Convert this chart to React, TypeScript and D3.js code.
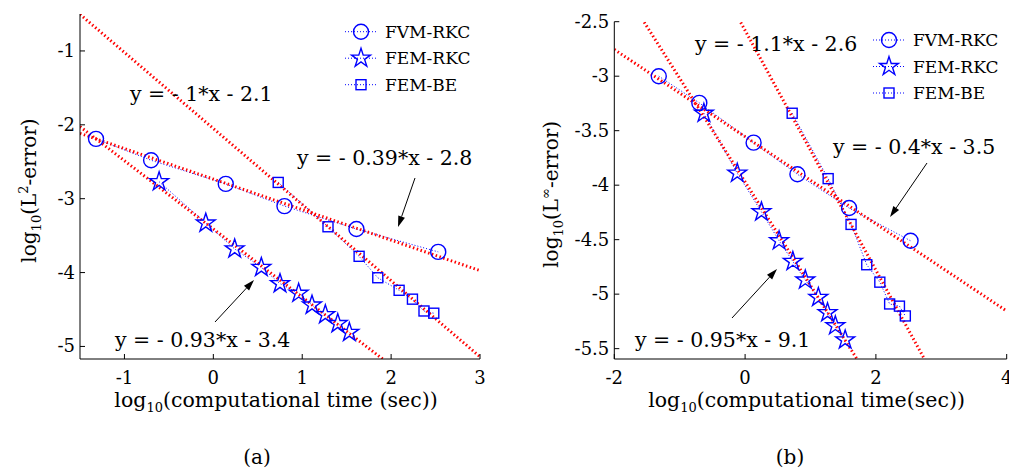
import React from "react";
import * as d3 from "d3";

// ---------- data: panel (a) ----------
const aFvmRkcX = [-1.32, -0.70, 0.14, 0.80, 1.61, 2.53];
const aFvmRkcY = [-2.19, -2.48, -2.80, -3.10, -3.41, -3.72];
const aFemRkcX = [-0.61, -0.085, 0.24, 0.54, 0.75, 0.96, 1.11, 1.26, 1.40, 1.53];
const aFemRkcY = [-2.77, -3.33, -3.68, -3.93, -4.15, -4.28, -4.44, -4.57, -4.69, -4.81];
const aFemBeX = [0.73, 1.29, 1.64, 1.85, 2.09, 2.24, 2.37, 2.48];
const aFemBeY = [-2.78, -3.38, -3.78, -4.07, -4.24, -4.36, -4.52, -4.55];
// fitted lines [slope, intercept]
const aFits = [
  [-1.03, -2.05],
  [-0.413, -2.735],
  [-0.924, -3.41],
];
const aXTicks = [-1, 0, 1, 2, 3];
const aYTicks = [-5, -4, -3, -2, -1];

// ---------- data: panel (b) ----------
const bFvmRkcX = [-1.32, -0.70, 0.13, 0.80, 1.59, 2.53];
const bFvmRkcY = [-3.0, -3.245, -3.61, -3.90, -4.21, -4.51];
const bFemRkcX = [-0.63, -0.12, 0.25, 0.52, 0.73, 0.92, 1.12, 1.26, 1.38, 1.53];
const bFemRkcY = [-3.34, -3.89, -4.245, -4.51, -4.70, -4.87, -5.03, -5.17, -5.29, -5.42];
const bFemBeX = [0.72, 1.27, 1.62, 1.86, 2.06, 2.21, 2.36, 2.45];
const bFemBeY = [-3.34, -3.94, -4.36, -4.73, -4.89, -5.09, -5.11, -5.20];
const bFits = [
  [-0.4, -3.555],
  [-0.95, -3.97],
  [-1.1, -2.58],
];
const bXTicks = [-2, 0, 2, 4];
const bYTicks = [-5.5, -5, -4.5, -4, -3.5, -3, -2.5];

const seriesNames = ["FVM-RKC", "FEM-RKC", "FEM-BE"];

const FONT = "'DejaVu Serif', serif";
const BLUE = "#0000ff";
const RED = "#ff0000";

type Ann = { text: string; x: number; y: number; arrow?: [number, number, number, number] };

type PanelProps = {
  left: number; right: number; top: number; bottom: number;
  xDomain: [number, number]; yDomain: [number, number];
  xTicks: number[]; yTicks: number[];
  series: { x: number[]; y: number[] }[];
  fits: number[][];
  legendX: number; legendY: number;
  anns: Ann[];
  ySup: string;
  xLabel: string;
  yLabelX: number;
  caption: string;
  captionX: number;
};

function Marker({ kind, x, y }: { kind: number; x: number; y: number }) {
  if (kind === 0) return <circle cx={x} cy={y} r={7.5} fill="none" stroke={BLUE} strokeWidth={1.4} />;
  if (kind === 1) {
    const p = d3.symbol().type(d3.symbolStar).size(110)();
    return <path d={p || ""} transform={`translate(${x},${y})`} fill="none" stroke={BLUE} strokeWidth={1.4} />;
  }
  return <rect x={x - 5} y={y - 5} width={10} height={10} fill="none" stroke={BLUE} strokeWidth={1.4} />;
}

function Arrow({ x1, y1, x2, y2 }: { x1: number; y1: number; x2: number; y2: number }) {
  const ang = Math.atan2(y2 - y1, x2 - x1);
  const L = 11, W = 3.5;
  const bx = x2 - L * Math.cos(ang), by = y2 - L * Math.sin(ang);
  const nx = -Math.sin(ang) * W, ny = Math.cos(ang) * W;
  return (
    <g>
      <line x1={x1} y1={y1} x2={bx} y2={by} stroke="#000" strokeWidth={1} />
      <path d={`M${x2},${y2}L${bx + nx},${by + ny}L${bx - nx},${by - ny}Z`} fill="#000" />
    </g>
  );
}

function Panel(p: PanelProps) {
  const xs = d3.scaleLinear().domain(p.xDomain).range([p.left, p.right]);
  const ys = d3.scaleLinear().domain(p.yDomain).range([p.bottom, p.top]);
  const line = d3.line<[number, number]>().x((d) => xs(d[0])).y((d) => ys(d[1]));
  const clipId = `clip${Math.round(p.left)}`;
  const fmt = (v: number) => (Number.isInteger(v) ? String(v) : v.toFixed(1));
  return (
    <g fontFamily={FONT}>
      <defs>
        <clipPath id={clipId}>
          <rect x={p.left} y={p.top} width={p.right - p.left} height={p.bottom - p.top} />
        </clipPath>
      </defs>
      {p.series.map((s, i) => (
        <path key={i} d={line(s.x.map((x, j) => [x, s.y[j]] as [number, number])) || ""} stroke={BLUE} strokeWidth={1} strokeDasharray="1,2" fill="none" />
      ))}
      <g clipPath={`url(#${clipId})`}>
        {p.fits.map((f, i) => {
          const pts: [number, number][] = [p.xDomain[0], p.xDomain[1]].map((x) => [x, f[0] * x + f[1]]);
          return <path key={i} d={line(pts) || ""} stroke={RED} strokeWidth={3} strokeDasharray="1.5,2.5" fill="none" />;
        })}
      </g>
      {p.series.map((s, i) => (
        <g key={i}>
          {s.x.map((x, j) => (
            <Marker key={j} kind={i} x={xs(x)} y={ys(s.y[j])} />
          ))}
        </g>
      ))}
      {/* axes */}
      <line x1={p.left} x2={p.right} y1={p.bottom} y2={p.bottom} stroke="#000" strokeWidth={1} />
      <line x1={p.left} x2={p.left} y1={p.top} y2={p.bottom} stroke="#000" strokeWidth={1} />
      {p.xTicks.map((t) => (
        <g key={t}>
          <line x1={xs(t)} x2={xs(t)} y1={p.bottom} y2={p.bottom - 5} stroke="#000" />
          <text x={xs(t)} y={p.bottom + 25} textAnchor="middle" fontSize={18}>{fmt(t)}</text>
        </g>
      ))}
      {p.yTicks.map((t) => (
        <g key={t}>
          <line x1={p.left} x2={p.left + 5} y1={ys(t)} y2={ys(t)} stroke="#000" />
          <text x={p.left - 5} y={ys(t) + 6} textAnchor="end" fontSize={18}>{fmt(t)}</text>
        </g>
      ))}
      <text x={(p.left + p.right) / 2 - 4} y={p.bottom + 48} textAnchor="middle" fontSize={20.5}>
        log<tspan fontSize={13} dy={5}>10</tspan><tspan dy={-5}>{p.xLabel}</tspan>
      </text>
      <text transform={`translate(${p.yLabelX},${(p.top + p.bottom) / 2 + 4}) rotate(-90)`} textAnchor="middle" fontSize={20}>
        log<tspan fontSize={13} dy={5}>10</tspan><tspan dy={-5}>(L</tspan><tspan fontSize={13} dy={-8}>{p.ySup}</tspan><tspan dy={8}>-error)</tspan>
      </text>
      {/* legend */}
      {seriesNames.map((n, i) => {
        const ly = p.legendY + i * 26.5;
        return (
          <g key={n}>
            <line x1={p.legendX} x2={p.legendX + 31} y1={ly} y2={ly} stroke={BLUE} strokeDasharray="1,2" />
            <Marker kind={i} x={p.legendX + 16} y={ly} />
            <text x={p.legendX + 40} y={ly + 6} fontSize={17}>{n}</text>
          </g>
        );
      })}
      {/* annotations */}
      {p.anns.map((a, i) => (
        <g key={i}>
          <text x={a.x} y={a.y} fontSize={20.5}>{a.text}</text>
          {a.arrow && <Arrow x1={a.arrow[0]} y1={a.arrow[1]} x2={a.arrow[2]} y2={a.arrow[3]} />}
        </g>
      ))}
      <text x={p.captionX} y={464} textAnchor="middle" fontSize={20}>{p.caption}</text>
    </g>
  );
}

export default function App() {
  return (
    <svg width={1009} height={471} style={{ position: "absolute", left: 0, top: 0, background: "#fff" }}>
      <Panel
        left={80} right={480} top={14} bottom={359}
        xDomain={[-1.5, 3]} yDomain={[-5.17, -0.5]}
        xTicks={aXTicks} yTicks={aYTicks}
        series={[{ x: aFvmRkcX, y: aFvmRkcY }, { x: aFemRkcX, y: aFemRkcY }, { x: aFemBeX, y: aFemBeY }]}
        fits={aFits}
        legendX={345} legendY={31.7}
        anns={[
          { text: "y = - 1*x - 2.1", x: 130, y: 101 },
          { text: "y = - 0.39*x - 2.8", x: 297, y: 165, arrow: [415, 178, 398, 227] },
          { text: "y = - 0.93*x - 3.4", x: 115, y: 347, arrow: [215, 322, 254, 280] },
        ]}
        ySup="2" xLabel="(computational time (sec))" yLabelX={36}
        caption="(a)" captionX={257}
      />
      <Panel
        left={614.3} right={1006.7} top={21.7} bottom={359}
        xDomain={[-2, 4]} yDomain={[-5.595, -2.5]}
        xTicks={bXTicks} yTicks={bYTicks}
        series={[{ x: bFvmRkcX, y: bFvmRkcY }, { x: bFemRkcX, y: bFemRkcY }, { x: bFemBeX, y: bFemBeY }]}
        fits={bFits}
        legendX={873} legendY={40}
        anns={[
          { text: "y = - 1.1*x - 2.6", x: 695, y: 51 },
          { text: "y = - 0.4*x - 3.5", x: 833, y: 154, arrow: [927, 163, 890, 217] },
          { text: "y = - 0.95*x - 9.1", x: 635, y: 347, arrow: [732, 318, 777, 269] },
        ]}
        ySup="∞" xLabel="(computational time(sec))" yLabelX={558}
        caption="(b)" captionX={790}
      />
    </svg>
  );
}
